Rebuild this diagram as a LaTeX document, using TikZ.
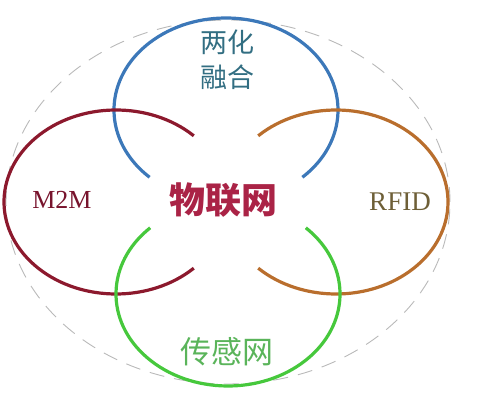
\documentclass[tikz,border=0pt]{standalone}
\usepackage{fontspec}
\setmainfont{Liberation Serif}
\newfontfamily\cjk{Noto Sans CJK SC}
\usepackage{tikz}
\usetikzlibrary{calc}

\definecolor{arcblue}{RGB}{60,120,185}
\definecolor{arcred}{RGB}{140,25,45}
\definecolor{arcorange}{RGB}{185,110,45}
\definecolor{arcgreen}{RGB}{70,200,60}
\definecolor{txtblue}{RGB}{50,110,130}
\definecolor{txtred}{RGB}{120,20,45}
\definecolor{txtmain}{RGB}{170,35,70}
\definecolor{txtbrown}{RGB}{110,95,55}
\definecolor{txtgreen}{RGB}{90,180,90}

\begin{document}
\begin{tikzpicture}[x=1pt,y=1pt,
    ring/.style={line width=3.2pt},
    label/.style={inner sep=0pt,align=center}]
      \useasboundingbox (0,0) rectangle (479,406);
      \draw [dashed,gray!55,line width=0.9pt,dash pattern=on 15pt off 10pt] (228,204) ellipse [x radius=222pt,y radius=182pt];
      \draw [ring,arcblue] (226,296) ++(-47:112pt and 92pt) arc (-47:227:112pt and 92pt);
      \draw [ring,arcred] (116,204) ++(46:112pt and 92pt) arc (46:314:112pt and 92pt);
      \draw [ring,arcorange] (336,204) ++(134:112pt and 92pt) arc (134:-134:112pt and 92pt);
      \draw [ring,arcgreen] (228,112) ++(134:112pt and 92pt) arc (134:406:112pt and 92pt);
      \node (lianghua) at (227,346) [label,text=txtblue,font=\cjk\fontsize{27}{35}\selectfont] {两化\\融合};
      \node (m2m) at (62,206) [label,text=txtred,font=\fontsize{26}{28}\selectfont] {M2M};
      \node (wulianwang) at (223,206) [label,text=txtmain,font=\cjk\bfseries\fontsize{36}{40}\selectfont] {物联网};
      \node (rfid) at (400,204) [label,text=txtbrown,font=\fontsize{27}{30}\selectfont] {RFID};
      \node (chuangan) at (227,54) [label,text=txtgreen,font=\cjk\fontsize{31}{35}\selectfont] {传感网};
    \end{tikzpicture}
\end{document}
